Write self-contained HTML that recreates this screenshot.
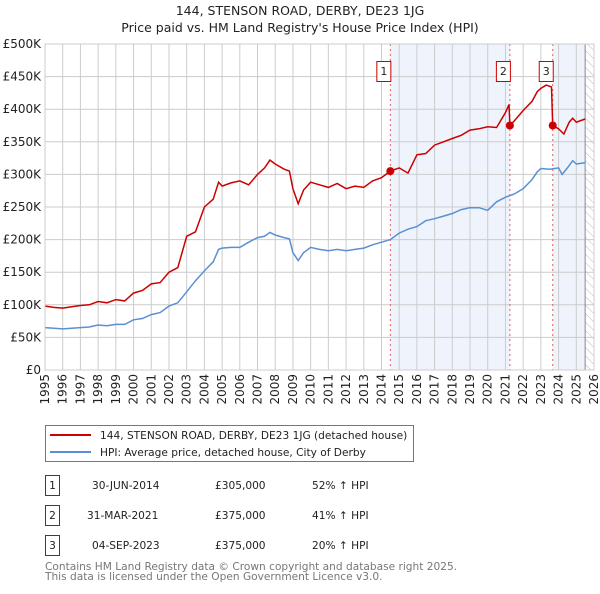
<!DOCTYPE html>
<html><head><meta charset="utf-8"><style>
body{margin:0;background:#fff;width:600px;height:590px;overflow:hidden;font-family:"DejaVu Sans","Liberation Sans",sans-serif}
svg text{font-family:"DejaVu Sans","Liberation Sans",sans-serif}
</style></head><body>
<svg id="c" width="600" height="590">
<defs><pattern id="hatch" width="6" height="6" patternUnits="userSpaceOnUse" patternTransform="rotate(-45)"><line x1="0" y1="0" x2="0" y2="6" stroke="#bbb" stroke-width="1"/></pattern></defs>
<text x="300" y="15" text-anchor="middle" font-size="12.5" fill="#222">144, STENSON ROAD, DERBY, DE23 1JG</text>
<text x="300" y="32" text-anchor="middle" font-size="12.5" fill="#222">Price paid vs. HM Land Registry's House Price Index (HPI)</text>
<g id="plot"></g>
<g>
<rect x="45.5" y="425.5" width="368" height="36" fill="#fff" stroke="#777"/>
<line x1="50" y1="435" x2="91" y2="435" stroke="#cc0000" stroke-width="2"/>
<text x="100" y="439" font-size="10.6" fill="#222">144, STENSON ROAD, DERBY, DE23 1JG (detached house)</text>
<line x1="50" y1="452" x2="91" y2="452" stroke="#5b8fd4" stroke-width="2"/>
<text x="100" y="456" font-size="10.6" fill="#222">HPI: Average price, detached house, City of Derby</text>
</g>
<g font-size="10.6" fill="#222">
<rect x="45.5" y="475.5" width="14" height="20" fill="none" stroke="#cc0000"/><text x="52.5" y="489" text-anchor="middle">1</text>
<text x="92" y="489">30-JUN-2014</text><text x="215" y="489">£305,000</text><text x="312" y="489">52% ↑ HPI</text>
<rect x="45.5" y="505.5" width="14" height="20" fill="none" stroke="#cc0000"/><text x="52.5" y="519" text-anchor="middle">2</text>
<text x="87" y="519">31-MAR-2021</text><text x="215" y="519">£375,000</text><text x="312" y="519">41% ↑ HPI</text>
<rect x="45.5" y="535.5" width="14" height="20" fill="none" stroke="#cc0000"/><text x="52.5" y="549" text-anchor="middle">3</text>
<text x="92" y="549">04-SEP-2023</text><text x="215" y="549">£375,000</text><text x="312" y="549">20% ↑ HPI</text>
</g>
<text x="45" y="570" font-size="10.6" fill="#777">Contains HM Land Registry data © Crown copyright and database right 2025.</text>
<text x="45" y="580" font-size="10.6" fill="#777">This data is licensed under the Open Government Licence v3.0.</text>
</svg>
<script>
const yTicks=[0,50,100,150,200,250,300,350,400,450,500];
const yTickLabels=["£0","£50K","£100K","£150K","£200K","£250K","£300K","£350K","£400K","£450K","£500K"];
const years=[1995,1996,1997,1998,1999,2000,2001,2002,2003,2004,2005,2006,2007,2008,2009,2010,2011,2012,2013,2014,2015,2016,2017,2018,2019,2020,2021,2022,2023,2024,2025,2026];
const hpiDates=[1995,1995.5,1996,1996.5,1997,1997.5,1998,1998.5,1999,1999.5,2000,2000.5,2001,2001.5,2002,2002.5,2003,2003.5,2004,2004.5,2004.8,2005,2005.5,2006,2006.5,2007,2007.4,2007.7,2008,2008.5,2008.8,2009,2009.3,2009.6,2010,2010.5,2011,2011.5,2012,2012.5,2013,2013.5,2014,2014.5,2015,2015.5,2016,2016.5,2017,2017.5,2018,2018.5,2019,2019.5,2020,2020.5,2021,2021.5,2022,2022.5,2022.8,2023,2023.5,2024,2024.2,2024.5,2024.8,2025,2025.5];
const hpiValues=[65,64,63,64,65,66,69,68,70,70,77,79,85,88,98,103,120,137,152,166,185,187,188,188,196,203,205,211,207,203,201,180,168,180,188,185,183,185,183,185,187,192,196,200,210,216,220,229,232,236,240,246,249,249,245,258,265,270,278,292,304,309,308,310,300,310,321,316,318];
const saleDates=[1995,1995.5,1996,1996.5,1997,1997.5,1998,1998.5,1999,1999.5,2000,2000.5,2001,2001.5,2002,2002.5,2003,2003.5,2004,2004.5,2004.8,2005,2005.5,2006,2006.5,2007,2007.4,2007.7,2008,2008.5,2008.8,2009,2009.3,2009.6,2010,2010.5,2011,2011.5,2012,2012.5,2013,2013.5,2014,2014.5,2015,2015.5,2016,2016.5,2017,2017.5,2018,2018.5,2019,2019.5,2020,2020.5,2021,2021.2,2021.25,2021.5,2022,2022.5,2022.8,2023,2023.3,2023.6,2023.67,2024,2024.3,2024.6,2024.8,2025,2025.5];
const saleValues=[98,96,95,97,99,100,105,103,108,106,118,122,132,134,150,157,205,212,250,262,288,282,287,290,284,300,310,322,316,308,305,278,255,276,288,284,280,286,278,282,280,290,295,305,310,302,330,332,345,350,355,360,368,370,373,372,395,407,375,382,398,412,427,432,437,434,375,370,362,380,386,380,385];
const sales=[[2014.5,305,"1"],[2021.25,375,"2"],[2023.67,375,"3"]];
const X0=45,X1=594,Y0=370,Y1=44;
const x=d=>X0+(d-1995)*(X1-X0)/31;
const y=v=>Y0-v*(Y0-Y1)/500;
const NS="http://www.w3.org/2000/svg";
const g=document.getElementById('plot');
function mk(t,a,p){const e=document.createElementNS(NS,t);for(const k in a)e.setAttribute(k,a[k]);(p||g).appendChild(e);return e;}
let r;
r=mk('rect',{x:x(2014.5),y:Y1,width:x(2021.25)-x(2014.5),height:Y0-Y1,fill:'#eef3fc'});


r=mk('rect',{x:x(2023.67),y:Y1,width:x(2025.5)-x(2023.67),height:Y0-Y1,fill:'#eef3fc'});


r=mk('rect',{x:x(2025.5),y:Y1,width:X1-x(2025.5),height:Y0-Y1,fill:'url(#hatch)'});


yTicks.forEach((v,i)=>{
 let l=mk('line',{x1:X0,x2:X1,y1:y(v),y2:y(v),stroke:'#ccc','stroke-width':1});
 
 
 let t=mk('text',{x:X0-4,y:y(v)+4,'text-anchor':'end','font-size':12,fill:'#222'});t.textContent=yTickLabels[i];
 
 
});
years.forEach(yr=>{
 let l=mk('line',{x1:x(yr),x2:x(yr),y1:Y1,y2:Y0,stroke:'#ccc','stroke-width':1});
 
 
 let t=mk('text',{x:0,y:0,'text-anchor':'end','font-size':12,fill:'#222',transform:`translate(${x(yr)+4},${Y0+4}) rotate(-90)`});t.textContent=yr;
 
 
});
r=mk('line',{x1:x(2025.5),x2:x(2025.5),y1:Y1,y2:Y0,stroke:'#888'});


sales.forEach(s=>{
 let l=mk('line',{x1:x(s[0]),x2:x(s[0]),y1:Y1,y2:Y0,stroke:'#e06060','stroke-dasharray':'2,3'});
 
 
});
const pts=(d,v)=>d.map((t,i)=>x(t).toFixed(1)+','+y(v[i]).toFixed(1)).join(' ');
r=mk('polyline',{points:pts(hpiDates,hpiValues),fill:'none',stroke:'#5b8fd4','stroke-width':1.5});


r=mk('polyline',{points:pts(saleDates,saleValues),fill:'none',stroke:'#cc0000','stroke-width':1.5});


sales.forEach(s=>{
 let c=mk('circle',{cx:x(s[0]),cy:y(s[1]),r:4,fill:'#cc0000'});
 
 
 let b=mk('rect',{x:x(s[0])-13.5,y:61.5,width:14,height:20,fill:'#fff',stroke:'#cc0000'});
 
 
 let t=mk('text',{x:x(s[0])-6.5,y:75,'text-anchor':'middle','font-size':11,fill:'#222'});t.textContent=s[2];
 
 
});
r=mk('rect',{x:X0,y:Y1,width:X1-X0,height:Y0-Y1,fill:'none',stroke:'#ccc'});


</script>
</body></html>
